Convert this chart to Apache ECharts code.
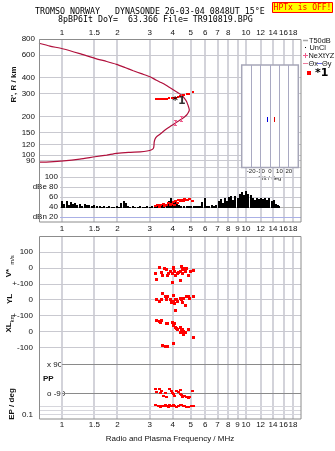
<!DOCTYPE html>
<html><head><meta charset="utf-8">
<script src="https://cdn.jsdelivr.net/npm/echarts@6/dist/echarts.min.js"></script>
<style>html,body{margin:0;padding:0;background:#fff}#c{width:335px;height:451px}</style>
</head><body><div id="c"></div>
<script>
// ================= DATA =================
const topFreqTicks = [1, 1.5, 2, 3, 4, 5, 6, 7, 8, 10, 12, 14, 16, 18];
const bottomFreqTicks = [1, 1.5, 2, 3, 4, 5, 6, 7, 8, 9, 10, 12, 14, 16, 18];
const gridFreqs = [1, 1.5, 2, 3, 4, 5, 6, 7, 8, 9, 10, 12, 14, 16, 18];
const heightTicks = [800, 600, 400, 300, 200, 150, 120, 100, 90, 80];
const tiltTicks = [-20, -10, 0, 10, 20];
const noiseTicks = [100, 80, 60, 40, 20];
const noiseTickLabels = ['100', 'dBe 80', '60', '40', 'dBn 20'];
const velTicks = [100, 0, -100];
const velTickLabels = ['100', '0', '+-100'];
const ylTicks = [0, -100];
const ylTickLabels = ['0', '+-100'];
const xlTicks = [0, -100];
const xlTickLabels = ['0', '-100'];
const ppTicks = [90, -90];
const ppTickLabels = ['x 90', 'o -90'];
const epTicks = [10, 0.1];
const epTickLabels = ['10.', '0.1'];
const epGridValues = [10, 1, 0.1];

// plasma frequency profile [MHz, km]
const profile = [[0.75,88],[0.86,88.5],[1.02,90],[1.25,93],[1.51,97],[1.75,100],[1.98,103],[2.30,105],[2.66,106],[2.90,107.5],[3.07,110],[3.14,113],[3.16,118],[3.17,126],[3.20,133],[3.27,139],[3.36,143],[3.50,150],[3.66,158],[3.90,168],[4.12,177],[4.30,184],[4.47,191],[4.63,198],[4.76,205],[4.86,214],[4.92,224],[4.90,231],[4.86,240],[4.76,260],[4.62,277],[4.47,293],[4.25,307],[4.04,321],[3.85,335],[3.66,351],[3.45,367],[3.24,384],[3.01,407],[2.70,430],[2.44,453],[2.20,480],[1.98,508],[1.75,535],[1.51,566],[1.25,615],[1.02,669],[0.86,705],[0.75,741]];
// echo trace *1 [MHz, km]
const echoTrace = [[3.23,273],[3.30,273],[3.37,272],[3.44,271],[3.53,273],[3.63,271],[3.70,274],[3.83,276],[3.95,276],[4.06,278],[4.16,278],[4.29,283],[4.38,287],[4.53,291],[4.62,295],[4.76,297],[4.92,299],[5.13,311]];
const echoLabelAt = [[4.32,263]];
const nexyz = [[4.12,177],[4.47,191]];
// tilt inset [deg, km]
const thetaX = [[4.5,189]];
const thetaY = [[-2.9,189]];
// noise amplitude
const noiseFreq = [1.00,1.03,1.06,1.09,1.12,1.15,1.18,1.21,1.25,1.29,1.33,1.37,1.41,1.45,1.50,1.55,1.60,1.65,1.70,1.75,1.80,1.86,1.92,1.98,2.04,2.10,2.16,2.22,2.28,2.35,2.42,2.50,2.58,2.66,2.74,2.82,2.90,3.00,3.10,3.20,3.30,3.40,3.50,3.60,3.70,3.80,3.90,4.00,4.10,4.20,4.30,4.45,4.60,4.75,4.90,5.05,5.20,5.35,5.50,5.65,5.80,5.95,6.10,6.30,6.50,6.70,6.90,7.10,7.30,7.50,7.70,7.90,8.10,8.30,8.50,8.75,9.00,9.25,9.50,9.75,10.0,10.3,10.6,10.9,11.2,11.5,11.8,12.1,12.4,12.7,13.0,13.4,13.8,14.2,14.6,15.0,15.2];
const noiseDb = [52,47,53,45,50,46,49,44,47,43,46,44,45,42,44,42,43,41,42,41,42,41,41,42,41,48,53,49,42,41,42,41,41,42,41,41,42,41,43,42,44,42,45,43,47,52,58,48,55,46,44,43,42,43,42,43,42,43,42,42,50,58,43,42,44,42,45,52,56,49,58,52,60,63,55,62,58,66,70,64,72,67,64,58,54,59,56,58,57,59,55,58,53,55,47,45,43];
const noiseFloorDb = 38;
const echoNoise = [[3.22,43],[3.30,45],[3.38,41],[3.45,44],[3.55,46],[3.62,42],[3.70,45],[3.80,48],[3.88,44],[3.95,47],[4.02,50],[4.08,45],[4.15,52],[4.22,49],[4.30,54],[4.38,52],[4.46,55],[4.55,53],[4.62,56],[4.72,54],[4.80,55],[4.95,57],[5.10,52]];
// lower panel
const velocity = [[3.22,-36],[3.25,-73],[3.39,4],[3.46,-25],[3.53,-46],[3.62,-4],[3.70,-11],[3.73,-46],[3.81,-36],[3.89,-21],[3.98,-36],[3.98,-90],[4.03,-4],[4.06,6],[4.11,-21],[4.15,-48],[4.24,-31],[4.32,-25],[4.41,-21],[4.41,-78],[4.47,10],[4.49,-11],[4.52,-31],[4.60,-11],[4.64,0],[4.70,-21],[4.74,0],[4.85,-46],[4.90,-48],[5.01,-21],[5.18,-15]];
const ylPos = [[3.26,0],[3.40,-11],[3.46,0],[3.50,42],[3.66,21],[3.70,4],[3.73,21],[3.89,0],[3.94,-17],[4.03,25],[4.06,-11],[4.09,-25],[4.15,0],[4.15,-67],[4.20,4],[4.27,-11],[4.38,11],[4.45,0],[4.51,-17],[4.57,11],[4.70,-38],[4.76,21],[4.86,21],[4.96,11],[5.21,21]];
const xlPos = [[3.26,69],[3.40,62],[3.43,56],[3.46,69],[3.52,-89],[3.65,-94],[3.70,48],[3.73,-94],[3.76,48],[3.98,56],[4.03,42],[4.03,-77],[4.06,36],[4.09,48],[4.15,28],[4.20,19],[4.27,15],[4.38,28],[4.38,-6],[4.45,11],[4.51,15],[4.57,-21],[4.60,0],[4.70,-6],[4.90,11],[5.18,-35]];
const polarization = [[3.24,-65],[3.27,-80],[3.38,-63],[3.41,-90],[3.48,-73],[3.55,-107],[3.67,-90],[3.70,-112],[3.86,-63],[3.94,-73],[3.99,-86],[4.03,-94],[4.11,-107],[4.20,-73],[4.29,-80],[4.38,-69],[4.42,-94],[4.47,-101],[4.53,-112],[4.66,-107],[4.75,-115],[4.85,-122],[4.95,-115],[5.12,-73]];
const epAngle = [[3.24,28],[3.33,15],[3.41,10],[3.48,18],[3.55,15],[3.63,28],[3.70,15],[3.78,10],[3.86,28],[3.94,15],[4.03,23],[4.11,15],[4.20,10],[4.29,18],[4.38,34],[4.47,23],[4.56,13],[4.66,15],[4.75,10],[4.85,7],[5.07,15],[5.17,15]];

// axis ranges
const freqRange = [0.75, 19.9];
const noiseFreqMin = 0.975;
const heightRange = [80, 800];
const insetHeightMax = 500;
const tiltRange = [-30, 30];
const noiseRange = [10, 118];
const velRange = [-100, 202.8];
const ylRange = [-100, 100];
const xlRange = [-154.9, 100];
const ppRange = [-132.6, 147.2];
const epLogRange = [-2.237, 2.763];

// ================= BUILD =================
const lg = Math.log10;
const FONT = '"Liberation Sans", Arial, sans-serif';
const LBL = {fontSize: 8, color: '#111', fontFamily: FONT};
const near = (ticks, labels, tf) => v => { for (let i = 0; i < ticks.length; i++) if (Math.abs(tf(ticks[i]) - v) < 1e-6) return labels ? labels[i] : String(ticks[i]); return ''; };
const id = v => v;

const PL = 39, PW = 262;
const grids = [
  {left: PL, top: 39, width: PW, height: 128.5},
  {left: 241.7, top: 65, width: 56.6, height: 102.5},
  {left: 60, top: 168, width: 241, height: 54},
  {left: PL, top: 236, width: PW, height: 183},
  {left: PL, top: 236, width: PW, height: 48},
  {left: PL, top: 284, width: PW, height: 31.7},
  {left: PL, top: 315.7, width: PW, height: 40.3},
  {left: PL, top: 356, width: PW, height: 44},
  {left: PL, top: 400, width: PW, height: 19}
].map(g => Object.assign({show: false, containLabel: false, outerBoundsMode: 'none'}, g));

function ax(gi, min, max, extra) {
  return Object.assign({type: 'value', gridIndex: gi, min: min, max: max, axisLine: {show: false}, axisTick: {show: false}, splitLine: {show: false}, axisLabel: {show: false}}, extra || {});
}
const FX = [lg(freqRange[0]), lg(freqRange[1])];
const xAxes = [
  ax(0, FX[0], FX[1], {position: 'top', axisLabel: Object.assign({show: true, customValues: topFreqTicks.map(lg), formatter: near(topFreqTicks, null, lg), margin: 2}, LBL)}),
  ax(1, tiltRange[0], tiltRange[1], {axisLabel: {show: true, customValues: tiltTicks, fontSize: 6, margin: 1, color: '#222', fontFamily: FONT}, name: 'Tilt / deg', nameLocation: 'middle', nameGap: 5, nameTextStyle: {fontSize: 6, color: '#222', fontFamily: FONT}}),
  ax(2, lg(noiseFreqMin), FX[1], {axisLabel: Object.assign({show: true, customValues: bottomFreqTicks.map(lg), formatter: near(bottomFreqTicks, null, lg), margin: 3}, LBL)}),
  ax(3, FX[0], FX[1], {axisLabel: Object.assign({show: true, customValues: bottomFreqTicks.map(lg), formatter: near(bottomFreqTicks, null, lg), margin: 2}, LBL), name: 'Radio and Plasma Frequency / MHz', nameLocation: 'middle', nameGap: 16, nameTextStyle: {fontSize: 8, color: '#111', fontFamily: FONT}}),
  ax(4, FX[0], FX[1]), ax(5, FX[0], FX[1]), ax(6, FX[0], FX[1]), ax(7, FX[0], FX[1]), ax(8, FX[0], FX[1])
];
const yAxes = [
  ax(0, lg(heightRange[0]), lg(heightRange[1]), {axisLabel: Object.assign({show: true, customValues: heightTicks.map(lg), formatter: near(heightTicks, null, lg), margin: 4}, LBL)}),
  ax(1, lg(heightRange[0]), lg(insetHeightMax)),
  ax(2, noiseRange[0], noiseRange[1], {axisLabel: Object.assign({show: true, customValues: noiseTicks, formatter: near(noiseTicks, noiseTickLabels, id), margin: 2}, LBL)}),
  ax(3, 0, 1),
  ax(4, velRange[0], velRange[1], {axisLabel: Object.assign({show: true, customValues: velTicks, formatter: near(velTicks, velTickLabels, id), margin: 6}, LBL)}),
  ax(5, ylRange[0], ylRange[1], {axisLabel: Object.assign({show: true, customValues: ylTicks, formatter: near(ylTicks, ylTickLabels, id), margin: 6}, LBL)}),
  ax(6, xlRange[0], xlRange[1], {axisLabel: Object.assign({show: true, customValues: xlTicks, formatter: near(xlTicks, xlTickLabels, id), margin: 6}, LBL)}),
  ax(7, ppRange[0], ppRange[1], {axisLabel: Object.assign({show: true, inside: true, customValues: ppTicks, formatter: near(ppTicks, ppTickLabels, id), margin: 8}, LBL)}),
  ax(8, epLogRange[0], epLogRange[1], {axisLabel: Object.assign({show: true, customValues: epTicks.map(lg), formatter: near(epTicks, epTickLabels, lg), margin: 6}, LBL)})
];

// gridline drawer (custom series), snapped to pixels
const snap = (v, w) => (Math.round(w) % 2 === 1) ? Math.floor(v) + 0.5 : Math.round(v);
function gridLines(gi, items, dir, refOther, z) {
  return {
    type: 'custom', xAxisIndex: gi, yAxisIndex: gi, silent: true, z: z || 1, clip: false, animation: false,
    data: items.map(it => dir === 'v' ? [it.v, refOther] : [refOther, it.v]),
    renderItem(params, api) {
      const it = items[params.dataIndex], cs = params.coordSys;
      const p = api.coord([api.value(0), api.value(1)]);
      let shape;
      if (dir === 'v') { const x = snap(p[0], it.width); shape = {x1: x, y1: cs.y, x2: x, y2: cs.y + cs.height}; }
      else {
        const x1 = it.from != null ? api.coord([it.from, api.value(1)])[0] : cs.x;
        const y = snap(p[1], it.width);
        shape = {x1: x1, y1: y, x2: cs.x + cs.width, y2: y};
      }
      return {type: 'line', shape: shape, style: {stroke: it.color, lineWidth: it.width}};
    }
  };
}
const vItems = gridFreqs.map(f => ({v: lg(f), color: '#d3d3da', width: 2}));
const hItem = (v, c, w, from) => ({v: v, color: c || '#c9c9d0', width: w || 1, from: from});

const RED = '#ff0000';
// crisp square dots
function dots(gi, data, w, h, z, color) {
  return {type: 'custom', xAxisIndex: gi, yAxisIndex: gi, data: data, z: z || 5, silent: true, animation: false,
    renderItem(params, api) {
      const p = api.coord([api.value(0), api.value(1)]);
      return {type: 'rect', shape: {x: Math.round(p[0] - w / 2), y: Math.round(p[1] - h / 2), width: w, height: h}, style: {fill: color || RED}};
    }};
}

const series = [
  // top ionogram panel
  gridLines(0, vItems, 'v', lg(100)),
  gridLines(0, heightTicks.map(h => hItem(lg(h))), 'h', FX[0]),
  {type: 'line', xAxisIndex: 0, yAxisIndex: 0, data: profile.map(p => [lg(p[0]), lg(p[1])]), symbol: 'none', smooth: 0.2, lineStyle: {color: '#b0103c', width: 1.2}, z: 5, silent: true, animation: false},
  dots(0, echoTrace.map(p => [lg(p[0]), lg(p[1])]), 2, 2, 6),
  {type: 'scatter', xAxisIndex: 0, yAxisIndex: 0, data: echoLabelAt.map(p => [lg(p[0]), lg(p[1])]), symbolSize: 1, itemStyle: {color: 'rgba(0,0,0,0)'}, label: {show: true, position: 'inside', formatter: '*1', fontSize: 11, fontWeight: 'bold', color: '#000', fontFamily: '"DejaVu Sans", sans-serif'}, z: 7, silent: true, animation: false},
  {type: 'custom', xAxisIndex: 0, yAxisIndex: 0, z: 6, silent: true, animation: false,
   data: nexyz.map(p => [lg(p[0]), lg(p[1])]),
   renderItem(params, api) {
     const p = api.coord([api.value(0), api.value(1)]);
     const x = Math.floor(p[0]) + 0.5, y = Math.round(p[1]);
     const st = {stroke: '#ee5c8c', lineWidth: 1};
     return {type: 'group', children: [
       {type: 'line', shape: {x1: x, y1: y - 2.5, x2: x, y2: y + 2.5}, style: st},
       {type: 'line', shape: {x1: x - 1.5, y1: y - 2.5, x2: x + 1.5, y2: y - 2.5}, style: st},
       {type: 'line', shape: {x1: x - 1.5, y1: y + 2.5, x2: x + 1.5, y2: y + 2.5}, style: st}
     ]};
   }},
  // inset
  gridLines(1, tiltTicks.map(t => ({v: t, color: '#a9a9c2', width: 1})), 'v', lg(100), 3),
  dots(1, thetaX.map(p => [p[0], lg(p[1])]), 1, 5, 4, '#e00000'),
  dots(1, thetaY.map(p => [p[0], lg(p[1])]), 1, 5, 4, '#0000dd'),
  // noise panel
  gridLines(2, vItems, 'v', 50),
  gridLines(2, noiseTicks.map(v => hItem(v, v === 20 ? '#aab0e6' : (v === 40 ? '#b4b4b4' : '#c9c9d0'), 1)), 'h', 0.5),
  {type: 'custom', xAxisIndex: 2, yAxisIndex: 2, z: 4, silent: true, animation: false,
   data: noiseFreq.map((f, i) => [lg(f), noiseDb[i]]),
   renderItem(params, api) {
     const t = api.coord([api.value(0), api.value(1)]);
     const b = api.coord([api.value(0), noiseFloorDb]);
     const x = Math.round(t[0] - 1), y = Math.round(t[1]);
     return {type: 'rect', shape: {x: x, y: y, width: 2, height: Math.round(b[1]) - y}, style: {fill: '#000'}};
   }},
  dots(2, echoNoise.map(p => [lg(p[0]), p[1]]), 3, 2, 6),
  // lower panel
  gridLines(3, vItems, 'v', 0.5),
  gridLines(4, velTicks.map(v => hItem(v)), 'h', FX[0]),
  gridLines(5, ylTicks.map(v => hItem(v)), 'h', FX[0]),
  gridLines(6, xlTicks.map(v => hItem(v)), 'h', FX[0]),
  gridLines(7, ppTicks.map(v => hItem(v, '#8a8a8a', 1, 0)), 'h', FX[0]),
  gridLines(8, epGridValues.map(v => hItem(lg(v), '#d6d6dc', 1)), 'h', FX[0]),
  dots(4, velocity.map(p => [lg(p[0]), p[1]]), 3, 3),
  dots(5, ylPos.map(p => [lg(p[0]), p[1]]), 3, 3),
  dots(6, xlPos.map(p => [lg(p[0]), p[1]]), 3, 3),
  dots(7, polarization.map(p => [lg(p[0]), p[1]]), 3, 2),
  dots(8, epAngle.map(p => [lg(p[0]), lg(p[1])]), 3, 2)
];

const T = (x, y, text, font, extra, rot) => Object.assign({type: 'text', x: x, y: y, rotation: rot || 0, z: 20, silent: true,
  style: Object.assign({text: text, font: font, fill: '#111', align: 'left', verticalAlign: 'middle'}, extra || {})});
const Ln = (x1, y1, x2, y2, c, w) => ({type: 'line', z: 20, silent: true, shape: {x1, y1, x2, y2}, style: {stroke: c, lineWidth: w || 1}});
const MONO = '"DejaVu Sans Mono", monospace';
const B8 = 'bold 8px ' + FONT;
const R7 = '7.4px ' + FONT;
const ROT = Math.PI / 2;
const graphics = [
  {type: 'rect', z: 2, silent: true, shape: {x: 241.7, y: 65, width: 56.6, height: 102.5}, style: {fill: '#fff', stroke: '#a6a6b8', lineWidth: 1.5}},
  {type: 'rect', z: 15, silent: true, shape: {x: 39.5, y: 39.5, width: 261.5, height: 182.5}, style: {fill: 'none', stroke: '#8c8c8c', lineWidth: 1}},
  {type: 'rect', z: 15, silent: true, shape: {x: 39.5, y: 236.5, width: 261.5, height: 182.5}, style: {fill: 'none', stroke: '#8c8c8c', lineWidth: 1}},
  T(35, 12, 'TROMSO NORWAY   DYNASONDE 26-03-04 0848UT 15°E', '8.3px ' + MONO, {fill: '#000'}),
  T(58, 20, '8pBP6It DoY=  63.366 File= TR910819.BPG', '8.3px ' + MONO, {fill: '#000'}),
  {type: 'rect', z: 20, silent: true, shape: {x: 272.5, y: 2.5, width: 60, height: 10}, style: {fill: '#ffff00', stroke: '#ff0000', lineWidth: 1}},
  T(302.5, 7.7, 'HPTx is OFF!', '8px ' + MONO, {fill: '#ff0000', align: 'center'}),
  T(14, 84.5, "R', R / km", B8, {align: 'center'}, ROT),
  T(9, 273, 'V*', B8, {align: 'center'}, ROT),
  T(12, 260, 'm/s', '6px ' + FONT, {align: 'center'}, ROT),
  T(10, 299, 'YL', B8, {align: 'center'}, ROT),
  T(12.5, 318.5, 'km', '6px ' + FONT, {align: 'center'}, ROT),
  T(8.5, 327.5, 'XL', B8, {align: 'center'}, ROT),
  T(12, 404, 'EP / deg', B8, {align: 'center'}, ROT),
  T(43, 379, 'PP', B8),
  // legend
  Ln(303, 40.5, 308, 40.5, '#a8a8a8', 1.5), T(309, 40.5, 'T50dB', R7),
  {type: 'rect', z: 20, silent: true, shape: {x: 305, y: 47, width: 1, height: 1}, style: {fill: '#000'}}, T(309.5, 47.8, 'UnCl', R7),
  Ln(303, 55.5, 308, 55.5, '#ee5c8c', 1), Ln(305.5, 53, 305.5, 58, '#ee5c8c', 1), T(308.5, 55.5, 'NeXtYZ', R7),
  Ln(303, 63.5, 308, 63.5, '#ee7c9c', 1), T(308.5, 63.5, 'Θx', R7),
  Ln(317, 63.5, 322, 63.5, '#6a6ae0', 1), T(322, 63.5, 'Θy', R7),
  {type: 'rect', z: 20, silent: true, shape: {x: 307, y: 71, width: 4, height: 4}, style: {fill: RED}},
  T(315, 73, '*1', 'bold 11px "DejaVu Sans", sans-serif', {fill: '#000'})
];

const chart = echarts.init(document.getElementById('c'), null, {renderer: 'canvas'});
chart.setOption({
  animation: false,
  backgroundColor: '#fff',
  textStyle: {fontFamily: FONT},
  grid: grids,
  xAxis: xAxes,
  yAxis: yAxes,
  series: series,
  graphic: {elements: graphics}
});
</script>
</body></html>
